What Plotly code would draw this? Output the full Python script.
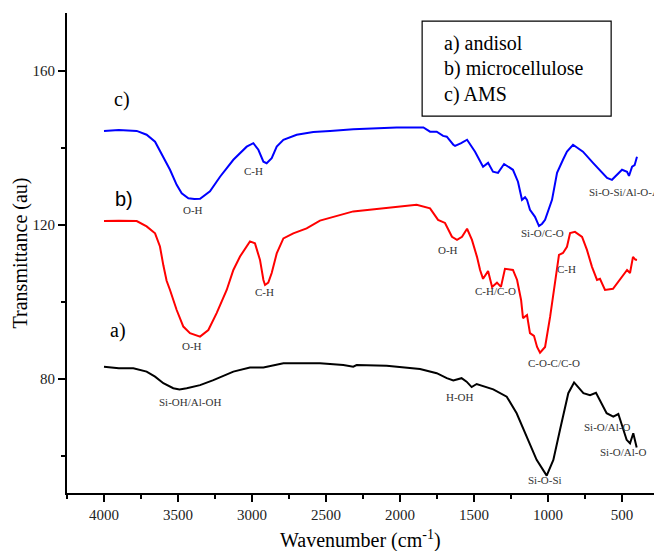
import plotly.graph_objects as go

# ---------- data ----------
wn_c = [4000, 3900, 3779, 3712, 3655, 3599, 3554, 3509, 3475, 3430, 3390, 3351, 3284, 3216, 3126, 3036, 2991,
        2957, 2923, 2901, 2867, 2833, 2788, 2698, 2586, 2473, 2316, 2023, 1842, 1797, 1752, 1709, 1684, 1640,
        1628, 1587, 1547, 1493, 1439, 1405, 1372, 1338, 1297, 1237, 1203, 1176, 1155, 1142, 1122, 1088, 1061,
        1040, 1020, 973, 939, 899, 872, 831, 764, 696, 649, 601, 568, 500, 466, 453, 432, 415, 399]
t_c = [144.4, 144.6, 144.4, 143.4, 141.6, 137.7, 134.3, 130.4, 128.2, 126.9, 126.7, 126.8, 128.7, 132.5, 136.9,
       140.3, 141.2, 139.5, 136.4, 136.0, 137.3, 140.3, 142.1, 143.4, 144.1, 144.4, 144.8, 145.3, 145.3, 144.2,
       144.2, 143.1, 142.9, 140.8, 140.5, 141.2, 142.1, 139.0, 135.1, 136.1, 133.8, 133.5, 135.8, 134.3, 131.2,
       126.5, 127.2, 126.5, 123.9, 122.1, 119.7, 120.3, 121.3, 126.5, 133.5, 136.9, 139.0, 140.8, 139.0, 136.1,
       134.3, 132.2, 131.7, 134.3, 133.8, 132.7, 135.1, 135.5, 137.7]

wn_b = [4000, 3900, 3779, 3712, 3655, 3622, 3599, 3577, 3554, 3509, 3464, 3419, 3351, 3295, 3239, 3171, 3126,
        3081, 3014, 2980, 2946, 2923, 2912, 2890, 2867, 2833, 2788, 2721, 2631, 2541, 2316, 2090, 1888, 1797,
        1743, 1696, 1649, 1615, 1581, 1547, 1514, 1480, 1459, 1439, 1405, 1378, 1345, 1318, 1291, 1237, 1209,
        1182, 1169, 1142, 1122, 1095, 1074, 1054, 1020, 986, 953, 926, 899, 872, 851, 818, 770, 737, 703, 669,
        649, 615, 561, 514, 466, 446, 426, 410, 399]
t_b = [121.0, 121.1, 121.0, 119.6, 117.8, 114.4, 109.5, 105.5, 103.1, 97.9, 93.6, 91.9, 91.0, 92.7, 97.1, 103.1,
       108.3, 111.8, 115.7, 115.2, 110.9, 105.7, 104.4, 105.0, 107.5, 112.6, 116.5, 117.8, 119.1, 121.1, 123.5,
       124.3, 125.2, 124.3, 121.3, 120.5, 116.9, 116.1, 116.9, 119.0, 116.1, 111.7, 108.3, 106.0, 108.0, 103.9,
       105.0, 103.9, 108.6, 108.3, 105.7, 100.5, 95.8, 96.6, 91.9, 91.2, 88.3, 86.8, 88.3, 96.1, 105.7, 112.2,
       112.7, 114.3, 117.9, 118.2, 116.9, 113.5, 109.1, 105.7, 106.0, 103.1, 103.4, 105.7, 108.3, 107.5, 111.7,
       111.0, 110.9]

wn_a = [4000, 3900, 3802, 3712, 3655, 3599, 3532, 3490, 3441, 3351, 3261, 3126, 3014, 2923, 2788, 2541, 2383,
        2316, 2293, 2090, 1865, 1752, 1684, 1640, 1584, 1550, 1516, 1482, 1370, 1279, 1212, 1144, 1077, 1009,
        964, 919, 863, 824, 761, 716, 676, 604, 559, 525, 469, 446, 424, 401]
t_a = [83.2, 82.8, 82.8, 81.9, 80.6, 78.9, 77.6, 77.3, 77.6, 78.4, 79.7, 81.9, 83.0, 83.0, 84.1, 84.1, 83.6,
       83.2, 83.6, 83.4, 82.6, 81.5, 80.2, 79.6, 80.2, 79.3, 77.9, 78.7, 77.3, 75.4, 71.1, 65.0, 59.0, 54.9,
       59.0, 66.8, 76.3, 79.1, 76.3, 75.8, 76.4, 71.1, 70.2, 70.9, 64.2, 63.3, 65.9, 62.2]

x_ticks = [4000, 3500, 3000, 2500, 2000, 1500, 1000, 500]
y_ticks = [80, 120, 160]
legend_lines = ["a) andisol", "b) microcellulose", "c) AMS"]

# peak labels: (wavenumber, transmittance, text)
peak_labels = [
    (3399, 123.9, "O-H"), (2993, 134.0, "C-H"), (1034, 117.9, "Si-O/C-O"),
    (3405, 88.6, "O-H"), (2919, 102.6, "C-H"), (1676, 113.5, "O-H"), (1358, 102.9, "C-H/C-O"),
    (872, 108.6, "C-H"), (959, 84.2, "C-O-C/C-O"),
    (3419, 74.0, "Si-OH/Al-OH"), (1595, 75.3, "H-OH"), (1020, 53.8, "Si-O-Si"),
    (595, 67.5, "Si-O/Al-O"), (493, 61.0, "Si-O/Al-O"),
]
curve_tags = [(3878, 152.5, "c)", "serif"), (3865, 126.8, "b)", "sans"),
              (3905, 92.7, "a)", "serif")]

SERIF = "Liberation Serif, Times New Roman, DejaVu Serif, serif"
SANS = "Liberation Sans, Arial, sans-serif"

# ---------- figure ----------
fig = go.Figure()
fig.add_trace(go.Scatter(x=wn_a, y=t_a, mode="lines", line=dict(color="#000000", width=2), name="a"))
fig.add_trace(go.Scatter(x=wn_b, y=t_b, mode="lines", line=dict(color="#ff0000", width=2), name="b"))
fig.add_trace(go.Scatter(x=wn_c, y=t_c, mode="lines", line=dict(color="#0000ff", width=2), name="c"))

ann = []
for x, y, t in peak_labels:
    ann.append(dict(x=x, y=y, text=t, showarrow=False, xref="x", yref="y",
                    font=dict(family=SERIF, size=11, color="#333333")))
ann.append(dict(x=736, y=128.6, text="Si-O-Si/Al-O-Al", showarrow=False, xref="x", yref="y",
                xanchor="left", font=dict(family=SERIF, size=11, color="#333333")))
for x, y, t, f in curve_tags:
    ann.append(dict(x=x, y=y, text=t, showarrow=False, xref="x", yref="y",
                    font=dict(family=SERIF if f == "serif" else SANS, size=20, color="#000000")))
for i, t in enumerate(legend_lines):
    ann.append(dict(x=0.639, y=0.9375 - i * 0.054, text=t, showarrow=False, xref="paper", yref="paper",
                    xanchor="left", yanchor="middle",
                    font=dict(family=SERIF, size=20, color="#000000")))
# x-axis title
ann.append(dict(x=0.5, y=-0.096, text="Wavenumber (cm<sup>-1</sup>)", showarrow=False, xref="paper",
                yref="paper", xanchor="center", yanchor="middle",
                font=dict(family=SERIF, size=20, color="#000000")))

fig.update_layout(
    width=654, height=551,
    margin=dict(l=67, r=0, t=13, b=58, autoexpand=False),
    paper_bgcolor="white", plot_bgcolor="white",
    showlegend=False,
    annotations=ann,
    shapes=[dict(type="rect", xref="paper", yref="paper", x0=0.605, x1=0.927, y0=0.785, y1=0.983,
                 line=dict(color="#000000", width=1.2), fillcolor="rgba(0,0,0,0)")],
    font=dict(family=SERIF, color="#222222"),
)
fig.update_xaxes(
    range=[4250, 284], tickvals=x_ticks, ticktext=[str(v) for v in x_ticks],
    showline=True, linecolor="#000000", linewidth=2, mirror=False, automargin=False,
    ticks="outside", ticklen=7, tickwidth=2, tickcolor="#000000",
    minor=dict(dtick=250, tick0=0, ticks="outside", ticklen=4, tickwidth=1.5, tickcolor="#000000"),
    showgrid=False, zeroline=False,
    tickfont=dict(family=SERIF, size=15, color="#222222"),
)
fig.update_yaxes(
    range=[50.4, 175], tickvals=y_ticks, ticktext=[str(v) for v in y_ticks],
    showline=True, linecolor="#000000", linewidth=2, mirror=False, automargin=False,
    ticks="outside", ticklen=7, tickwidth=2, tickcolor="#000000",
    minor=dict(dtick=20, tick0=0, ticks="outside", ticklen=4, tickwidth=1.5, tickcolor="#000000"),
    showgrid=False, zeroline=False,
    tickfont=dict(family=SERIF, size=15, color="#222222"),
    title=dict(text="Transmittance (au)", font=dict(family=SERIF, size=20, color="#000000"),
               standoff=0),
)

fig.write_html("out.html", config={"displayModeBar": False},
               post_script="document.body.style.margin='0px';document.body.style.overflow='hidden';")
